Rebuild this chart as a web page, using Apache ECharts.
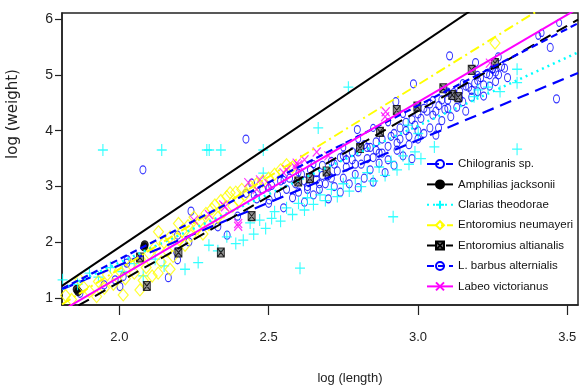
<!DOCTYPE html>
<html><head><meta charset="utf-8">
<script src="https://cdn.jsdelivr.net/npm/echarts@6/dist/echarts.min.js"></script>
<style>html,body{margin:0;padding:0;background:#fff}#c{width:584px;height:385px}</style>
</head><body><div id="c"></div>
<script>
// ---- data ----
const species = ["Chilogranis sp.","Amphilias jacksonii","Clarias theodorae","Entoromius neumayeri","Entoromius altianalis","L. barbus alternialis","Labeo victorianus"];
const xTicks = [2.0, 2.5, 3.0, 3.5];
const yTicks = [1, 2, 3, 4, 5, 6];
const xRange = [1.808, 3.536];
const yRange = [0.88, 6.107];
// regression lines: y = a + b*x
const lineIntercept = [-2.888, -5.286, -3.261, -5.075, -4.830, -3.801, -4.879];
const lineSlope     = [ 2.24,   3.60,   2.45,   3.30,   3.06,   2.75,   3.13];

const chilogranisPts = [[1.868,1.09],[1.949,1.24],[1.986,1.33],[2.002,1.21],[2.013,1.39],[2.025,1.63],[2.027,1.69],[2.079,3.30],[2.164,1.37],[2.192,1.83],[2.195,1.69],[2.195,2.13],[2.233,2.01],[2.240,2.56],[2.330,2.28],[2.361,2.13],[2.396,2.47],[2.424,2.88],[2.424,3.85],[2.443,3.06],[2.502,2.76],
[2.46,2.78],[2.48,2.95],[2.50,2.70],[2.51,3.02],[2.53,2.85],[2.54,3.10],[2.55,2.62],[2.56,2.95],[2.57,3.15],[2.58,2.80],[2.59,3.05],[2.60,2.90],[2.61,3.22],[2.62,2.72],[2.63,3.00],[2.64,3.30],[2.65,2.85],[2.66,3.12],[2.67,2.95],[2.68,3.38],[2.69,3.05],[2.70,2.78],[2.70,3.20],[2.71,3.45],[2.72,3.00],[2.73,3.28],[2.74,2.90],[2.75,3.55],[2.75,3.15],[2.76,3.35],[2.77,3.05],[2.78,3.48],[2.79,3.22],[2.80,3.62],[2.80,2.98],[2.81,3.40],[2.82,3.15],[2.83,3.70],[2.84,3.30],[2.85,3.52],[2.85,3.08],[2.86,3.80],[2.87,3.42],[2.88,3.60],[2.89,3.25],[2.90,3.72],[2.90,3.48],[2.91,3.90],[2.92,3.38],[2.93,3.65],[2.94,3.85],[2.95,3.55],[2.96,4.00],[2.97,3.75],[2.98,3.50],[2.99,4.10],[3.00,3.85],[3.01,4.22],[3.02,3.95],[3.03,4.35],[3.04,4.05],[3.05,4.28],[3.06,3.92],[3.07,4.45],[3.08,4.18],[3.09,4.38],[3.10,4.55],[3.11,4.25],[3.12,4.62],[3.13,4.42],[3.14,4.70],[3.15,4.52],[3.16,4.35],[3.17,4.78],[3.18,4.60],[3.19,4.85],[3.20,4.70],[3.21,4.95],[3.22,4.62],[3.23,5.02],[3.24,4.80],[3.25,5.10],[3.26,4.88],[3.27,5.00],[3.29,5.12],[3.30,4.95],
[2.62,3.10],[2.64,3.18],[2.66,3.25],[2.68,3.20],[2.72,3.40],[2.74,3.52],[2.76,3.48],[2.78,3.62],[2.82,3.75],[2.84,3.70],[2.86,3.65],[2.88,3.85],[2.92,3.95],[2.94,4.05],[2.96,4.15],[2.98,4.20],[3.00,4.30],[3.02,4.40],[3.04,4.48],[3.06,4.35],[3.08,4.55],[3.10,4.40],[3.12,4.68],[3.14,4.58],[3.16,4.80],[3.18,4.72],[3.20,4.90],[3.22,4.82],[3.24,5.00],[3.26,5.05],[3.28,5.15],[3.00,4.00],[2.97,3.90],[2.93,3.78],[2.87,3.60],[2.83,3.50],[2.79,3.40],[2.71,3.15],[2.67,3.05],[2.63,2.95],
[2.797,4.02],[2.926,4.52],[2.985,4.84],[3.069,4.05],[3.106,5.34],[3.193,5.22],[3.269,5.32],[3.464,4.57],[3.443,5.49]];
const amphiliasPts = [[1.857,1.16],[1.862,1.12],[2.083,1.92],[2.085,1.96]];
const clariasPts = [[1.81,1.33],[1.86,1.25],[1.90,1.45],[1.93,1.38],[1.97,1.55],[2.01,1.48],[2.05,1.62],[2.08,1.40],[2.12,1.70],[2.15,1.58],[2.22,1.52],[2.264,1.64],[2.30,1.95],[2.33,1.85],[2.36,2.10],[2.39,1.98],[2.415,2.04],[2.438,2.35],[2.45,2.15],[2.47,2.40],[2.49,2.25],[2.51,2.43],[2.52,2.55],[2.54,2.38],[2.56,2.62],[2.58,2.50],[2.60,2.70],[2.62,2.58],[2.63,2.80],[2.65,2.68],[2.672,2.85],[2.69,2.75],[2.71,2.95],[2.73,2.82],[2.75,3.05],[2.77,2.92],[2.79,3.15],[2.81,3.00],[2.83,3.25],[2.85,3.10],[2.87,3.35],[2.89,3.20],[2.91,3.45],[2.93,3.30],[2.95,3.55],[2.97,3.40],[2.99,3.62],[3.01,3.50],
[1.945,3.655],[2.142,3.655],[2.293,3.655],[2.301,3.655],[2.340,3.655],[2.482,3.655],[2.482,3.24],[2.666,4.05],[2.767,4.78],[2.967,4.10],[3.001,3.95],[3.055,3.71],[3.188,4.61],[3.201,4.73],[3.235,4.78],[3.275,4.70],[3.332,5.10],[3.332,4.86],[3.332,3.67],[2.917,2.46],[2.605,1.54]];
const neumayeriPts = [[1.82,1.05],[1.84,0.98],[1.868,1.33],[1.88,1.20],[1.90,1.12],[1.924,1.03],[1.93,1.30],[1.95,1.18],[1.96,1.42],[1.98,1.25],[2.00,1.50],[2.013,1.06],[2.02,1.35],[2.04,1.60],[2.05,1.45],[2.069,1.15],[2.07,1.70],[2.08,1.32],[2.09,1.55],[2.10,1.80],[2.11,1.40],[2.12,1.92],[2.13,1.45],[2.131,2.19],[2.14,1.65],[2.15,2.00],[2.16,1.85],[2.17,1.52],[2.17,2.10],[2.18,1.75],[2.198,2.34],[2.20,2.05],[2.21,2.20],[2.22,1.95],[2.23,2.30],[2.24,2.12],[2.25,2.45],[2.26,2.25],[2.27,2.38],[2.28,2.15],[2.29,2.52],[2.30,2.32],[2.31,2.60],[2.320,2.67],[2.33,2.45],[2.34,2.75],[2.35,2.55],[2.36,2.82],[2.371,2.89],[2.38,2.65],[2.39,2.90],[2.40,2.75],[2.41,2.95],[2.42,2.85],[2.44,3.00],[2.46,3.05],[2.48,3.10],[2.50,3.15],[2.52,3.22],[2.54,3.30],[2.56,3.39],[2.58,3.35],[3.258,5.57]];
const altianalisPts = [[2.069,1.73],[2.092,1.22],[2.198,1.82],[2.340,1.82],[2.443,2.47],[2.599,3.09],[2.638,3.15],[2.694,3.27],[2.806,3.69],[2.873,3.98],[2.929,4.37],[2.998,4.43],[3.085,4.76],[3.115,4.64],[3.135,4.60],[3.18,5.09],[3.258,5.21]];
const lbarbusPts = [[2.45,2.85],[2.50,2.98],[2.55,3.12],[2.60,3.25],[2.65,3.40],[2.75,3.70],[2.80,3.85],[2.85,4.05],[2.90,4.15],[2.95,4.30],[3.05,4.55],[3.10,4.70],[3.15,4.85],[3.20,5.00],[3.25,5.10],[3.403,5.70],[3.414,5.75],[3.473,5.93]];
const labeoPts = [[2.25,2.40],[2.30,2.50],[2.348,2.67],[2.354,2.64],[2.398,2.29],[2.398,2.34],[2.432,3.07],[2.46,2.95],[2.471,3.12],[2.50,3.05],[2.55,3.25],[2.56,3.30],[2.588,3.35],[2.594,3.42],[2.599,3.39],[2.62,3.48],[2.661,3.62],[2.70,3.55],[2.89,4.25],[2.892,4.34],[3.241,5.21]];

const points = [chilogranisPts, amphiliasPts, clariasPts, neumayeriPts, altianalisPts, lbarbusPts, labeoPts];

// ---- styles ----
const FONT = "'Liberation Sans',Arial,sans-serif";
const colors = ['#0000ff','#000000','#00ffff','#ffff00','#000000','#0000ff','#ff00ff'];
const clear = 'rgba(0,0,0,0)';
const markers = [
  {symbol:'circle', size:[6,8], fill:clear, stroke:'#0000ff', bw:1.1},
  {symbol:'circle', size:[7,8], fill:'#000', stroke:'#000', bw:1},
  {symbol:'path://M5,0L5,10M0,5L10,5', size:[10,12], fill:clear, stroke:'#00ffff', bw:1.2},
  {symbol:'diamond', size:[10,12], fill:clear, stroke:'#ffff00', bw:1.2},
  {symbol:'path://M0,0L10,0L10,10L0,10ZM0,0L10,10M10,0L0,10', size:[7,9], fill:'#777', stroke:'#000', bw:1},
  {symbol:'circle', size:[5,7], fill:clear, stroke:'#0000ff', bw:1.1},
  {symbol:'path://M0,0L10,10M10,0L0,10', size:[8,9], fill:clear, stroke:'#ff00ff', bw:1.2}
];
const lineTypes = [[12,7],'solid',[2,4],[10,4,2,4],[12,7],[7,4],'solid'];
const lineWidths = [2.2,2,2.5,2,2,2.2,2];

const series = [];
species.forEach((name,i)=>{
  const m = markers[i];
  series.push({
    name: name + ' (obs)', type:'scatter', data: points[i], z:2,
    symbol:m.symbol, symbolSize:m.size,
    itemStyle:{color:m.fill, borderColor:m.stroke, borderWidth:m.bw},
    silent:true, animation:false
  });
});
species.forEach((name,i)=>{
  const m = markers[i];
  const a = lineIntercept[i], b = lineSlope[i];
  series.push({
    name: name, type:'line', z:3,
    data: [[xRange[0], a + b*xRange[0]], [xRange[1], a + b*xRange[1]]],
    symbol:m.symbol, symbolSize:m.size, showSymbol:false,
    itemStyle:{color:m.fill, borderColor:m.stroke, borderWidth:m.bw},
    lineStyle:{color:colors[i], width:lineWidths[i], type:lineTypes[i]},
    silent:true, animation:false, clip:true
  });
});

const chart = echarts.init(document.getElementById('c'), null, {renderer:'canvas'});
chart.setOption({
  animation:false,
  backgroundColor:'#fff',
  grid:{left:62, top:13, right:6, bottom:80, show:true, borderColor:'#222', borderWidth:1.5, containLabel:false},
  xAxis:{type:'value', min:xRange[0], max:xRange[1],
    axisLine:{show:true, onZero:false, lineStyle:{color:'#222', width:1.5}},
    axisTick:{show:true, length:10, customValues:xTicks, lineStyle:{color:'#222', width:1.2}},
    axisLabel:{customValues:xTicks, margin:26, color:'#222', fontSize:13, fontFamily:FONT, formatter:v=>v.toFixed(1)},
    splitLine:{show:false}},
  yAxis:{type:'value', min:yRange[0], max:yRange[1],
    axisLine:{show:true, onZero:false, lineStyle:{color:'#222', width:1.5}},
    axisTick:{show:true, length:7, customValues:yTicks, lineStyle:{color:'#222', width:1.2}},
    axisLabel:{customValues:yTicks, margin:9, color:'#222', fontSize:14, fontFamily:FONT, formatter:v=>String(v)},
    splitLine:{show:false}},
  legend:{data:species, orient:'vertical', left:426, top:158, padding:0, itemWidth:26, itemHeight:10, itemGap:8.4,
    textStyle:{fontSize:11.5, fontFamily:FONT, color:'#111'}, selectedMode:false},
  graphic:[
    {type:'text', x:350, y:378, style:{text:'log (length)', textAlign:'center', textVerticalAlign:'middle', font:"13px 'Liberation Sans',Arial,sans-serif", fill:'#222'}},
    {type:'text', x:13, y:114, rotation:Math.PI/2, style:{text:'log (weight)', textAlign:'center', textVerticalAlign:'middle', font:"15px 'DejaVu Sans',sans-serif", fill:'#222'}}
  ],
  series: series
});
</script>
</body></html>
